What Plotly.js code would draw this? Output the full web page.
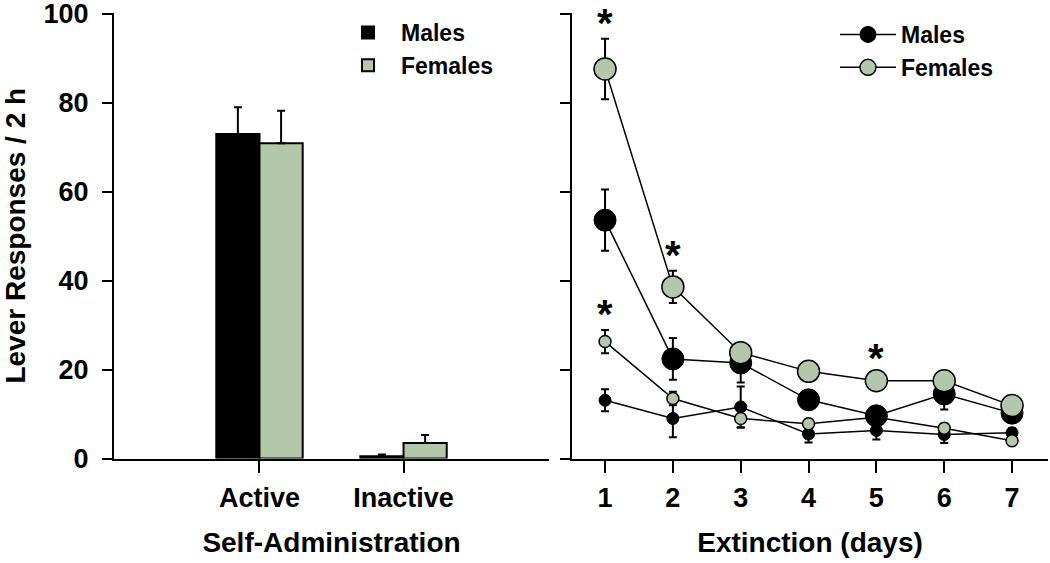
<!DOCTYPE html>
<html>
<head>
<meta charset="utf-8">
<script src="https://cdn.plot.ly/plotly-3.0.1.min.js"></script>
<style>html,body{margin:0;padding:0;background:#fff;}#chart{width:1050px;height:563px;}</style>
</head>
<body>
<div id="chart"></div>
<script>
// ---- Self-administration (left panel) ----
var saCategories = ['Active', 'Inactive'];
var saMales = [73.0, 0.5];
var saMalesErr = [6.0, 0.4];
var saFemales = [70.9, 3.5];
var saFemalesErr = [7.3, 1.8];

// ---- Extinction (right panel) ----
var days = [1, 2, 3, 4, 5, 6, 7];
var extMalesActive = [53.6, 22.4, 21.5, 13.2, 9.6, 14.5, 10.2];
var extMalesActiveErr = [6.9, 4.7, 4.4, 1.5, 1.5, 3.5, 1.5];
var extFemalesActive = [87.6, 38.6, 23.8, 19.6, 17.5, 17.5, 11.9];
var extFemalesActiveErr = [6.8, 3.6, 2.0, 1.5, 1.5, 1.5, 1.5];
var extMalesInactive = [13.1, 9.0, 11.6, 5.5, 6.3, 5.4, 5.8];
var extMalesInactiveErr = [2.5, 4.2, 4.6, 1.9, 2.0, 1.9, 1.0];
var extFemalesInactive = [26.3, 13.5, 9.0, 7.8, 9.3, 6.8, 4.0];
var extFemalesInactiveErr = [2.6, 1.5, 2.0, 1.0, 1.0, 1.0, 1.0];

// y-axis ticks
var yTicks = [0, 20, 40, 60, 80, 100];

// significance markers (days with *)
var sigFemalesActiveDays = [1, 2, 5];
var sigFemalesInactiveDays = [1];

var GREEN = '#b3c7ab';
var FONT = 'Liberation Sans, Arial, Helvetica, sans-serif';

function errCfg(arr, minus) {
  var e = {type: 'data', array: arr, color: '#000', thickness: 2, width: 4, visible: true};
  if (minus === false) { e.symmetric = false; e.arrayminus = arr.map(function(){return 0;}); }
  return e;
}

var traces = [
  {type: 'bar', name: 'Males', x: saCategories, y: saMales, xaxis: 'x', yaxis: 'y',
   marker: {color: '#000', line: {color: '#000', width: 2}},
   error_y: errCfg(saMalesErr, false), legend: 'legend'},
  {type: 'bar', name: 'Females', x: saCategories, y: saFemales, xaxis: 'x', yaxis: 'y',
   marker: {color: GREEN, line: {color: '#000', width: 2}},
   error_y: errCfg(saFemalesErr, false), legend: 'legend'},

  {type: 'scatter', mode: 'lines+markers', name: 'Males inactive', x: days, y: extMalesInactive,
   xaxis: 'x2', yaxis: 'y2', showlegend: false,
   line: {color: '#000', width: 1.5},
   marker: {size: 12, color: '#000', line: {color: '#000', width: 1}},
   error_y: errCfg(extMalesInactiveErr)},
  {type: 'scatter', mode: 'lines+markers', name: 'Females inactive', x: days, y: extFemalesInactive,
   xaxis: 'x2', yaxis: 'y2', showlegend: false,
   line: {color: '#000', width: 1.5},
   marker: {size: 12, color: GREEN, line: {color: '#000', width: 1.5}},
   error_y: errCfg(extFemalesInactiveErr)},
  {type: 'scatter', mode: 'lines+markers', name: 'Males', x: days, y: extMalesActive,
   xaxis: 'x2', yaxis: 'y2', legend: 'legend2',
   line: {color: '#000', width: 1.5},
   marker: {size: 22, color: '#000', line: {color: '#000', width: 1}},
   error_y: errCfg(extMalesActiveErr)},
  {type: 'scatter', mode: 'lines+markers', name: 'Females', x: days, y: extFemalesActive,
   xaxis: 'x2', yaxis: 'y2', legend: 'legend2',
   line: {color: '#000', width: 1.5},
   marker: {size: 22, color: GREEN, line: {color: '#000', width: 1.5}},
   error_y: errCfg(extFemalesActiveErr)}
];

var annotations = [];
function addStars(dlist, vals, errs) {
  dlist.forEach(function(d) {
    var i = days.indexOf(d);
    annotations.push({xref: 'x2', yref: 'y2', x: d, y: vals[i] + errs[i], text: '*',
      showarrow: false, yanchor: 'bottom', yshift: -8,
      font: {family: FONT, size: 40, color: '#000', weight: 700}});
  });
}
addStars(sigFemalesActiveDays, extFemalesActive, extFemalesActiveErr);
addStars(sigFemalesInactiveDays, extFemalesInactive, extFemalesInactiveErr);

var tickFont = {family: FONT, size: 27, color: '#000', weight: 700};
var titleFont = {family: FONT, size: 28, color: '#000', weight: 700};
var yDomain = [1 - 458.5 / 563, 1 - 13 / 563];

var layout = {
  width: 1050, height: 563,
  margin: {l: 0, r: 0, t: 0, b: 0},
  paper_bgcolor: '#fff', plot_bgcolor: '#fff',
  font: {family: FONT, color: '#000'},
  barmode: 'group', bargap: 0.4, bargroupgap: 0,
  xaxis: {domain: [114 / 1050, 549 / 1050], anchor: 'y', type: 'category', range: [-1.01, 2.01],
    showline: true, linecolor: '#000', linewidth: 2, ticks: 'outside', ticklen: 12, tickwidth: 2,
    tickcolor: '#000', showgrid: false, zeroline: false, tickfont: tickFont, ticklabelstandoff: 2,
    title: {text: 'Self-Administration', font: titleFont, standoff: 20}},
  yaxis: {domain: yDomain, anchor: 'x', range: [0, 100.2], tickvals: yTicks, ticklabeloverflow: 'allow',
    showline: true, linecolor: '#000', linewidth: 2, ticks: 'outside', ticklen: 10, tickwidth: 2,
    tickcolor: '#000', showgrid: false, zeroline: false, tickfont: tickFont, ticklabelstandoff: 8,
    title: {text: 'Lever Responses / 2 h', font: titleFont, standoff: 10}},
  xaxis2: {domain: [572 / 1050, 1048 / 1050], anchor: 'y2', range: [0.513, 7.53],
    tickvals: days, ticktext: days.map(String),
    showline: true, linecolor: '#000', linewidth: 2, ticks: 'outside', ticklen: 12, tickwidth: 2,
    tickcolor: '#000', showgrid: false, zeroline: false, tickfont: tickFont, ticklabelstandoff: 2,
    title: {text: 'Extinction (days)', font: titleFont, standoff: 20}},
  yaxis2: {domain: yDomain, anchor: 'x2', range: [0, 100.2], tickvals: yTicks, ticklabeloverflow: 'allow',
    showline: true, linecolor: '#000', linewidth: 2, ticks: 'outside', ticklen: 10, tickwidth: 2,
    tickcolor: '#000', showgrid: false, zeroline: false, showticklabels: false},
  legend: {x: 335 / 1050, y: 1 - 11 / 563, xanchor: 'left', yanchor: 'top',
    bgcolor: 'rgba(0,0,0,0)', font: {family: FONT, size: 23, color: '#000', weight: 700},
    itemwidth: 56, tracegroupgap: 0},
  legend2: {x: 835 / 1050, y: 1 - 13 / 563, xanchor: 'left', yanchor: 'top',
    bgcolor: 'rgba(0,0,0,0)', font: {family: FONT, size: 23, color: '#000', weight: 700},
    itemwidth: 56, tracegroupgap: 0},
  annotations: annotations,
  showlegend: true
};

Plotly.newPlot('chart', traces, layout, {displayModeBar: false, staticPlot: true});
</script>
</body>
</html>
